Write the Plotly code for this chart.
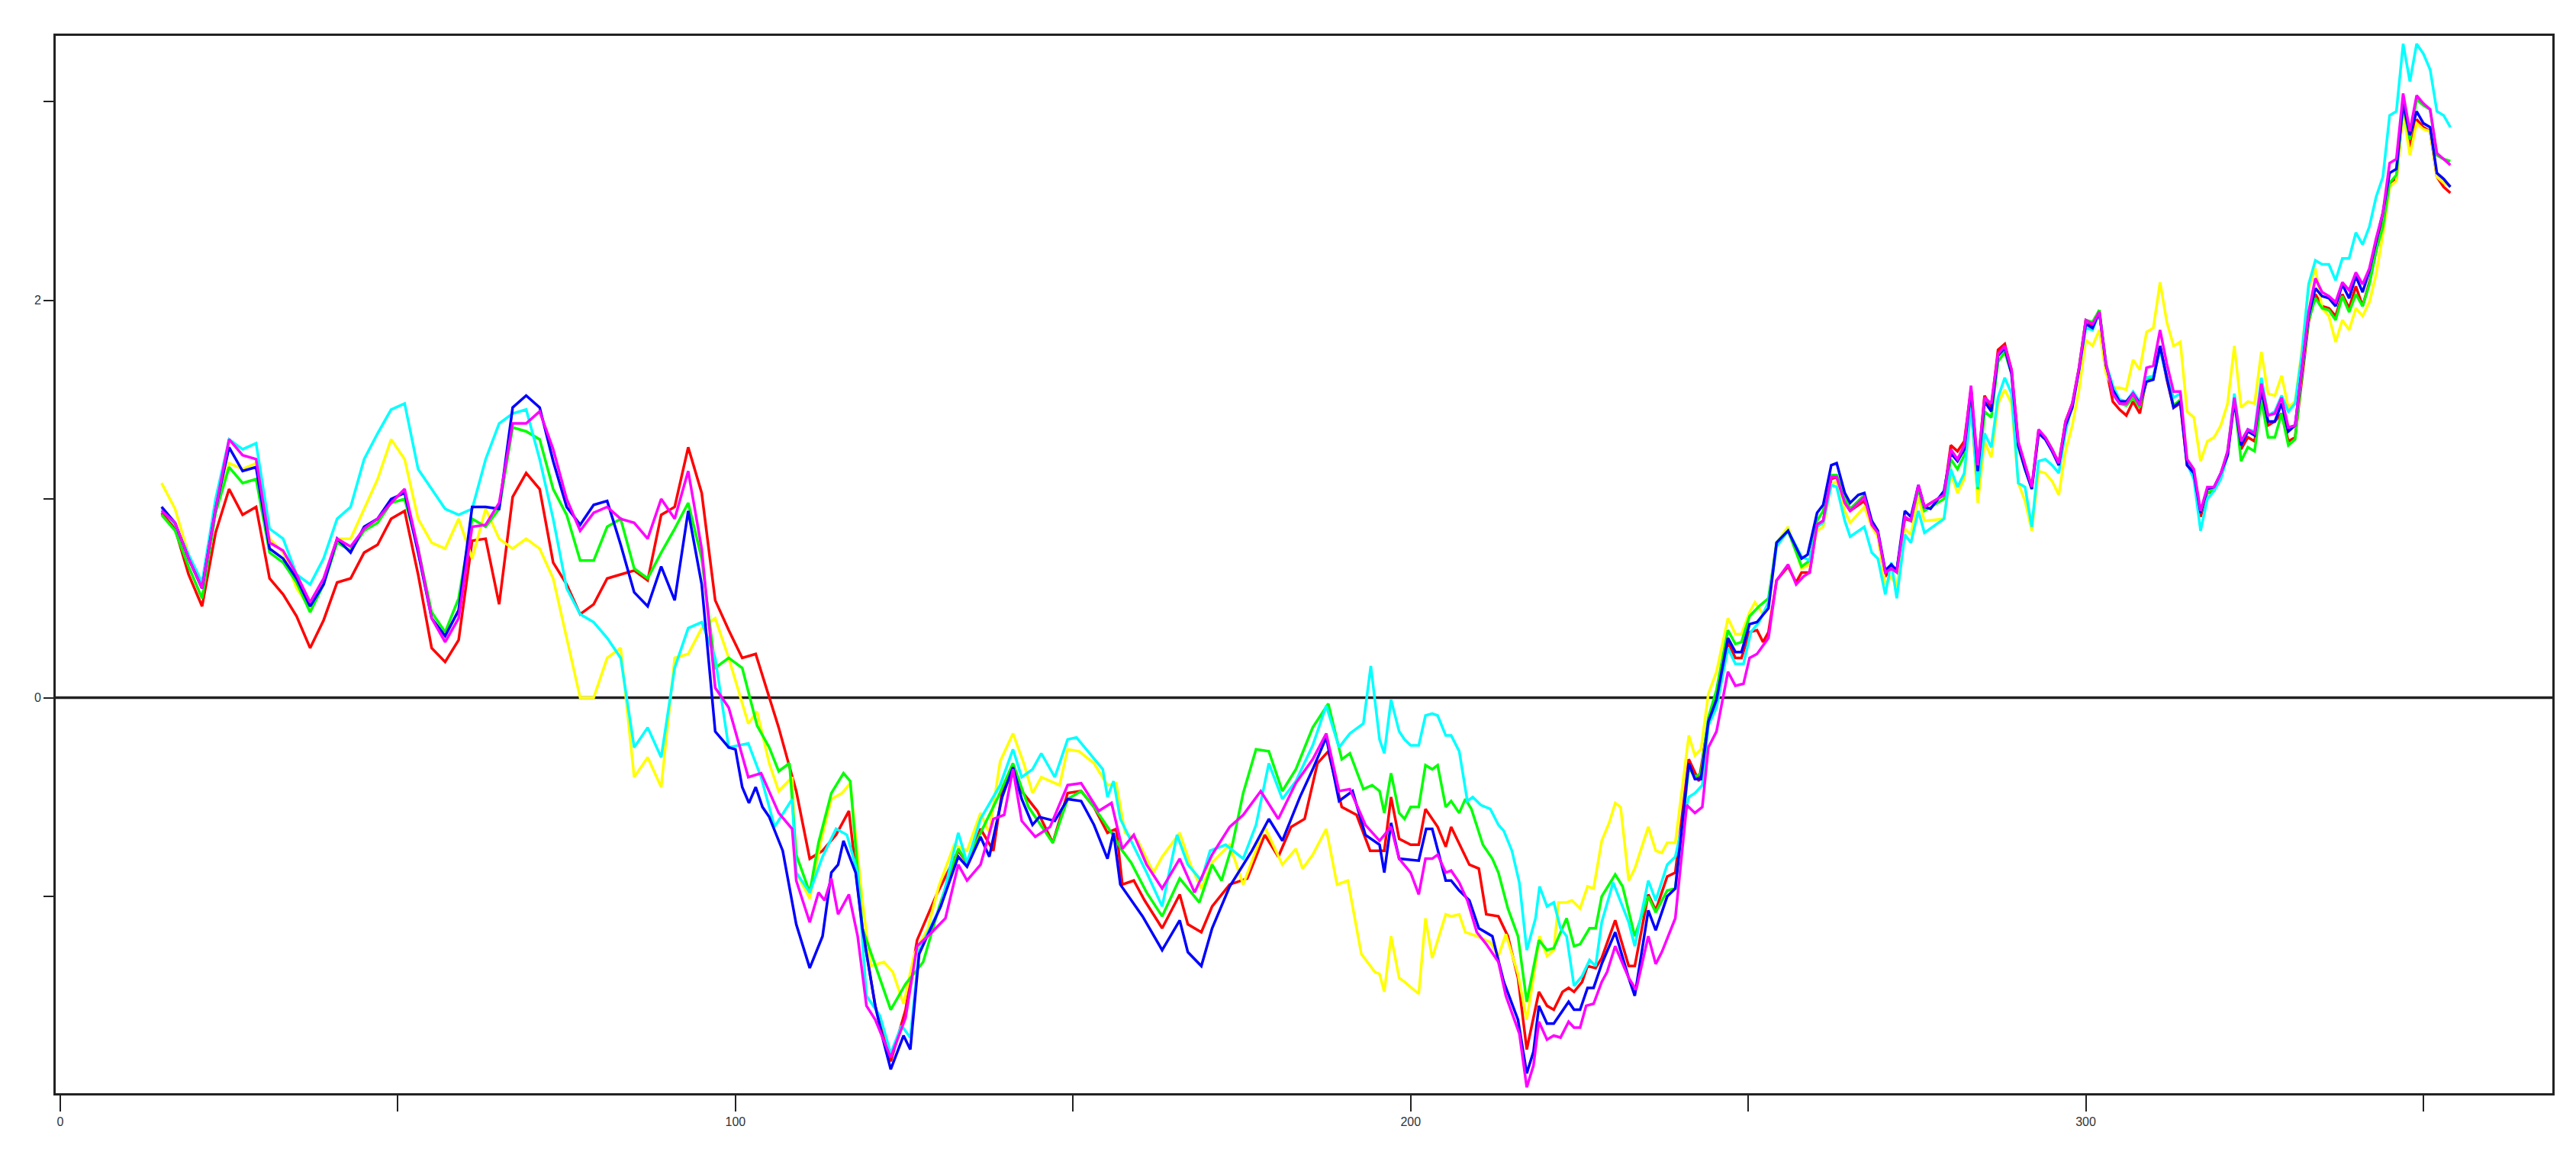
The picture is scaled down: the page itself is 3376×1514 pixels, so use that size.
import plotly.graph_objects as go

# ---- shared x grids for segments read at regular steps ----
X_SEG1 = list(range(15, 100, 2))      # 15..99
X_SEG4 = list(range(280, 355))        # 280..354

SERIES_NAMES = ["red", "yellow", "green", "cyan", "blue", "magenta"]
COLORS = {"red": "#FF0000", "yellow": "#FFFF00", "green": "#00FF00",
          "cyan": "#00FFFF", "blue": "#0000FF", "magenta": "#FF00FF"}

# ---- segment 1 (x 15..99) ----
BLUE_1 = [.96,.88,.70,.55,.95,1.26,1.14,1.16,.75,.70,.60,.46,.57,.80,.73,.86,.90,1.0,1.03,.73,
          .40,.31,.44,.96,.96,.95,1.46,1.52,1.46,1.19,.96,.87,.97,.99,.77,.53,.46,.66,.49,.94,.57,-.17,-.25]
RED_1 = [.93,.85,.62,.46,.83,1.05,.92,.96,.60,.52,.41,.25,.39,.58,.60,.73,.77,.90,.94,.62,
         .25,.18,.29,.79,.80,.47,1.01,1.13,1.05,.68,.57,.42,.47,.60,.62,.64,.59,.92,.96,1.26,1.03,.49,.34]
GREEN_1 = [.92,.84,.66,.50,.93,1.16,1.08,1.10,.73,.68,.58,.43,.57,.78,.74,.84,.88,.98,1.00,.75,
           .43,.33,.50,.90,.86,.95,1.36,1.34,1.30,1.05,.92,.69,.69,.86,.90,.65,.60,.73,.85,.98,.70,.15,.20]
MAGENTA_1 = [.94,.88,.70,.55,.95,1.30,1.22,1.20,.78,.74,.62,.48,.60,.80,.76,.85,.90,.98,1.05,.75,
             .40,.28,.40,.86,.87,.98,1.38,1.38,1.44,1.25,1.0,.84,.93,.96,.90,.88,.80,1.0,.90,1.14,.75,.05,-.05]
CYAN_1 = [.95,.87,.72,.58,1.0,1.30,1.25,1.28,.85,.80,.62,.57,.70,.90,.96,1.20,1.33,1.45,1.48,1.15,
          1.05,.95,.92,.95,1.20,1.38,1.43,1.45,1.20,.90,.55,.42,.38,.30,.20,-.25,-.15,-.30,.15,.35,.38,.20,-.25]
YELLOW_1 = [1.08,.95,.72,.55,.95,1.18,1.15,1.18,.80,.73,.55,.45,.58,.80,.80,.95,1.10,1.30,1.20,.90,
            .78,.75,.90,.70,.95,.80,.75,.80,.75,.60,.30,0.0,0.0,.20,.25,-.40,-.30,-.45,.20,.22,.35,.40,.20]

# ---- segment 2 (x ~100..195), (x, value) pairs ----
BLUE_2 = [(100,-0.26),(101,-0.45),(102,-0.53),(103,-0.45),(104,-0.55),(105,-0.60),(107,-0.77),(109,-1.14),
          (111,-1.36),(112.9,-1.20),(114.2,-0.88),(115.2,-0.84),(116,-0.72),(117.8,-0.88),(118.8,-1.16),
          (120.7,-1.55),(121.7,-1.70),(123,-1.87),(124.9,-1.70),(125.9,-1.77),(127.2,-1.29),(130.4,-1.05),
          (133,-0.80),(134.3,-0.85),(136.3,-0.70),(137.6,-0.80),(139.5,-0.50),(141.1,-0.35),(142.4,-0.51),
          (144,-0.64),(145,-0.60),(147.3,-0.62),(149.2,-0.51),(151.2,-0.52),(153.1,-0.64),(155.1,-0.81),
          (156,-0.68),(157,-0.94),(160.3,-1.10),(163.2,-1.27),(165.8,-1.12),(167,-1.28),(169,-1.35),
          (170.6,-1.16),(173.2,-0.95),(176.5,-0.77),(179,-0.61),(181,-0.72),(183.6,-0.50),(185.5,-0.36),
          (187.5,-0.20),(189.4,-0.52),(191.4,-0.47),(193.3,-0.69)]
RED_2 = [(101,0.20),(103,0.22),(105,0.0),(106.4,-0.15),(109,-0.47),(111,-0.81),(112.9,-0.77),(114.9,-0.69),
         (116.8,-0.57),(118.8,-1.16),(120.7,-1.55),(123,-1.83),(125.2,-1.57),(126.9,-1.22),(129.8,-0.99),
         (133,-0.77),(134.3,-0.83),(136.3,-0.66),(138.2,-0.77),(139.5,-0.47),(141.1,-0.37),(142.4,-0.47),
         (144.7,-0.57),(147,-0.73),(149.2,-0.48),(151.2,-0.47),(153.1,-0.55),(155.1,-0.68),(156.4,-0.66),
         (157.3,-0.94),(159,-0.92),(160.6,-1.02),(163.2,-1.16),(165.8,-0.99),(167,-1.14),(169,-1.18),
         (170.6,-1.05),(173.2,-0.94),(175.8,-0.91),(178.4,-0.69),(180.4,-0.80),(182.3,-0.65),(184.3,-0.61),
         (186.2,-0.33),(187.8,-0.27),(189.8,-0.55),(192,-0.59),(194,-0.77)]
GREEN_2 = [(101,0.15),(103.2,-0.14),(105,-0.25),(106.4,-0.37),(108,-0.33),(109,-0.79),(111,-0.98),(112.3,-0.73),
           (114.2,-0.48),(116,-0.38),(117,-0.42),(118.8,-1.16),(120,-1.28),(123,-1.57),(125.2,-1.44),
           (127.8,-1.33),(130.1,-1.06),(133,-0.76),(134.3,-0.83),(136.3,-0.68),(138.9,-0.50),(141.1,-0.33),
           (143.4,-0.55),(147,-0.73),(149.2,-0.51),(151.2,-0.47),(153.1,-0.55),(155.7,-0.68),(157.3,-0.77),
           (158.6,-0.83),(160.9,-0.98),(163.2,-1.10),(165.8,-0.91),(168.7,-1.03),(170.6,-0.84),(172,-0.92),
           (173.6,-0.74),(175.2,-0.48),(177.1,-0.26),(179,-0.27),(181,-0.47),(183,-0.36),(185.5,-0.15),
           (187.8,-0.03),(189.8,-0.31),(191,-0.28),(193,-0.46),(194.3,-0.44)]
MAGENTA_2 = [(101.9,-0.40),(103.8,-0.38),(106.4,-0.58),(108.4,-0.66),(109,-0.92),(111,-1.13),(112.3,-0.98),
             (113.2,-1.02),(114.2,-0.91),(115.2,-1.09),(116.8,-0.99),(118.1,-1.20),(119.4,-1.55),(120.7,-1.62),
             (123,-1.81),(125.2,-1.61),(126.9,-1.25),(129.1,-1.18),(131.1,-1.11),(133,-0.84),(134.3,-0.92),
             (136.3,-0.84),(138.2,-0.61),(139.8,-0.59),(141.1,-0.36),(142.4,-0.62),(144.4,-0.70),(146.6,-0.65),
             (149.2,-0.44),(151.2,-0.43),(153.8,-0.57),(155.7,-0.53),(157.3,-0.76),(159,-0.69),(160.9,-0.84),
             (163.2,-0.96),(165.8,-0.81),(168,-0.98),(170.6,-0.79),(173.2,-0.65),(175.2,-0.59),(177.8,-0.47),
             (180.4,-0.61),(183,-0.43),(185.5,-0.31),(187.5,-0.18),(189.4,-0.47),(191,-0.46),(193.3,-0.64)]
CYAN_2 = [(101.9,-0.23),(103.8,-0.40),(105.8,-0.65),(108.4,-0.51),(109,-0.88),(111,-0.98),(112.9,-0.80),
          (114.9,-0.66),(116.5,-0.69),(118.1,-0.88),(119.4,-1.50),(121.4,-1.60),(123,-1.79),(124.6,-1.65),
          (125.9,-1.71),(127.2,-1.27),(130.4,-1.05),(133,-0.68),(134.3,-0.83),(136.3,-0.61),(139.2,-0.44),
          (141.1,-0.26),(142.4,-0.40),(144,-0.36),(145.3,-0.28),(147.3,-0.40),(149.2,-0.21),(150.5,-0.20),
          (152.5,-0.28),(154.4,-0.36),(155.1,-0.50),(156,-0.42),(157,-0.61),(158.6,-0.72),(160.9,-0.88),
          (163.2,-1.05),(165.4,-0.69),(167,-0.84),(169,-0.92),(170.3,-0.77),(172.6,-0.74),(175.2,-0.81),
          (177.1,-0.64),(179,-0.33),(181,-0.51),(183,-0.42),(185.5,-0.24),(187.5,-0.04),(189.4,-0.25),
          (191,-0.18),(193,-0.13),(194.1,0.16)]
YELLOW_2 = [(101.9,-0.13),(103.2,-0.07),(105,-0.33),(106.4,-0.47),(108.4,-0.40),(109,-0.88),(111,-1.01),
            (112.6,-0.73),(114.2,-0.51),(115.8,-0.48),(117,-0.43),(118.8,-1.02),(120,-1.35),(122,-1.33),
            (123.3,-1.38),(124.9,-1.54),(126.5,-1.29),(128.5,-1.16),(130.1,-0.95),(132.4,-0.74),(134.3,-0.77),
            (136.3,-0.58),(137.6,-0.68),(139.2,-0.32),(141.1,-0.18),(142.7,-0.33),(144,-0.48),(145.3,-0.40),
            (148,-0.44),(149.2,-0.26),(150.9,-0.27),(153.1,-0.33),(155.1,-0.44),(156.4,-0.43),(157.7,-0.68),
            (159.6,-0.72),(161.9,-0.88),(163.2,-0.80),(165.8,-0.68),(167.4,-0.84),(169,-0.96),(170.6,-0.83),
            (173.2,-0.74),(175.2,-0.94),(178.4,-0.65),(181,-0.84),(183,-0.76),(184,-0.86),(185.5,-0.79),
            (187.5,-0.66),(189.1,-0.94),(190.7,-0.92),(192.7,-1.29),(194.7,-1.38)]

# ---- segment 3 (x ~195..279), (x, value) pairs ----
BLUE_3 = [(195.4,-0.74),(196.1,-0.88),(197.1,-0.63),(198.3,-0.81),(201.2,-0.82),(202.3,-0.66),(203.2,-0.66),
          (205.2,-0.92),(206,-0.92),(207.2,-0.97),(208.7,-1.02),(210.1,-1.16),(212.1,-1.20),(213.8,-1.43),
          (215.9,-1.62),(217.2,-1.89),(218.2,-1.78),(219,-1.55),(220.2,-1.64),(221.2,-1.64),(223.4,-1.53),
          (224.2,-1.57),(225.1,-1.57),(226.2,-1.46),(227.1,-1.46),(228.3,-1.34),(230.3,-1.18),(232.3,-1.41),
          (233.2,-1.50),(235.2,-1.07),(236.3,-1.17),(238,-1.00),(239.2,-0.96),(241.2,-0.33),(242.1,-0.41),
          (243,-0.41),(244.1,-0.12),(245.3,-0.01),(247,0.30),(248.1,0.23),(249,0.23),(250.2,0.37),(251.3,0.38),
          (253,0.45),(254.2,0.78),(255.9,0.84),(257.9,0.70),(258.8,0.72),(260.2,0.93),(261.1,0.97),(262.3,1.17),
          (263.1,1.18),(264.3,1.03),(265.1,0.98),(266.3,1.02),(267.2,1.03),(268.3,0.89),(269.2,0.84),(270.3,0.64),
          (271.2,0.67),(272,0.64),(273.2,0.94),(274.1,0.91),(275.2,1.07),(276.1,0.96),(277,0.95),(279,1.04)]
RED_3 = [(196.1,-0.77),(197.1,-0.50),(198.3,-0.71),(200,-0.74),(201.2,-0.74),(202.2,-0.56),(204,-0.65),
         (205.2,-0.75),(206,-0.65),(208.7,-0.84),(210.1,-0.86),(211.2,-1.09),(213,-1.10),(214.4,-1.20),
         (215.9,-1.41),(217.2,-1.77),(219,-1.48),(220.2,-1.55),(221.2,-1.57),(222.5,-1.48),(223.4,-1.46),
         (224.2,-1.48),(225.4,-1.43),(226.2,-1.35),(227.4,-1.36),(228.3,-1.31),(230.3,-1.12),(232.3,-1.35),
         (233.2,-1.35),(235.2,-0.99),(236.3,-1.07),(238,-0.90),(239.2,-0.88),(241.2,-0.31),(242.7,-0.42),
         (244.1,-0.12),(245.3,-0.01),(247,0.28),(248.1,0.20),(249,0.20),(250.2,0.33),(251.3,0.34),(252.2,0.28),
         (253,0.33),(254.2,0.59),(255.9,0.66),(257.1,0.58),(257.9,0.63),(259.1,0.63),(260.2,0.87),(261.1,0.89),
         (262.3,1.10),(263.1,1.11),(264.3,0.98),(265.1,0.94),(267.2,0.99),(268.3,0.87),(269.2,0.82),(270.3,0.61),
         (271.2,0.65),(272,0.64),(273.2,0.90),(274.1,0.89),(275.2,1.06),(276.1,0.96),(279,1.02)]
GREEN_3 = [(195.4,-0.47),(196.1,-0.58),(197.1,-0.38),(198.3,-0.58),(199.1,-0.61),(200,-0.55),(201.2,-0.55),
           (202.2,-0.34),(203.2,-0.36),(204,-0.34),(205.2,-0.55),(206,-0.52),(207.2,-0.58),(208.1,-0.51),
           (209,-0.56),(210.7,-0.74),(212.1,-0.81),(213,-0.88),(214.4,-1.06),(215.9,-1.20),(217.2,-1.53),
           (219,-1.22),(220.2,-1.27),(221.2,-1.26),(223.1,-1.11),(224.2,-1.25),(225.1,-1.24),(226.5,-1.16),
           (227.4,-1.16),(228.3,-1.00),(230.3,-0.89),(231.4,-0.95),(233.2,-1.20),(235.2,-1.00),(236.3,-1.08),
           (238,-0.97),(239.2,-0.96),(241.2,-0.35),(242.1,-0.40),(243,-0.38),(244.1,-0.10),(245.3,0.04),
           (247,0.34),(248.1,0.27),(249,0.28),(250.2,0.41),(251.6,0.46),(253,0.50),(254.2,0.78),(255.9,0.84),
           (257.9,0.66),(259.1,0.69),(260.2,0.89),(261.1,0.94),(262.3,1.12),(263.1,1.12),(264.3,1.01),
           (265.1,0.95),(267.2,1.02),(268.3,0.88),(269.2,0.83),(270.3,0.63),(271.2,0.66),(272,0.64),(273.2,0.91),
           (274.1,0.89),(275.2,1.05),(276.1,0.94),(279,1.00)]
MAGENTA_3 = [(195.4,-0.72),(197.1,-0.65),(198.3,-0.81),(200,-0.88),(201.2,-0.99),(202.2,-0.81),(203.2,-0.81),
             (204,-0.79),(205.2,-0.88),(206,-0.87),(207.2,-0.93),(208.4,-1.02),(209.8,-1.18),(211.2,-1.24),
             (213,-1.33),(214.1,-1.50),(216.1,-1.69),(217.2,-1.96),(218.2,-1.85),(219,-1.63),(220.2,-1.72),
             (221.2,-1.70),(222.2,-1.71),(223.4,-1.63),(224.2,-1.66),(225.1,-1.66),(226,-1.55),(227.1,-1.54),
             (228.3,-1.43),(229.1,-1.38),(230.3,-1.25),(232.3,-1.41),(233.4,-1.47),(235.2,-1.20),(236.3,-1.34),
             (237.2,-1.28),(239.2,-1.11),(240.9,-0.54),(242.1,-0.58),(243.2,-0.55),(244.1,-0.25),(245.3,-0.17),
             (247,0.13),(248.1,0.06),(249.3,0.07),(250.2,0.20),(251.3,0.22),(253,0.30),(254.2,0.59),(255.9,0.67),
             (257.1,0.57),(258.2,0.61),(259.1,0.63),(260.2,0.87),(261.1,0.89),(262.3,1.11),(263.1,1.11),
             (264.3,0.98),(265.1,0.94),(267.2,1.01),(268.3,0.87),(269.2,0.83),(270.3,0.63),(271.2,0.65),(272,0.63),
             (273.2,0.91),(274.1,0.89),(275.2,1.07),(276.1,0.96),(279,1.02)]
CYAN_3 = [(195.4,-0.21),(196.1,-0.28),(197.1,-0.01),(198.3,-0.17),(199.1,-0.21),(200,-0.24),(201.2,-0.24),
          (202.2,-0.09),(203.2,-0.08),(204,-0.09),(205.2,-0.19),(206,-0.19),(207.2,-0.27),(208.4,-0.52),
          (209.2,-0.50),(210.4,-0.54),(211.8,-0.56),(213,-0.64),(213.8,-0.67),(215,-0.77),(216.1,-0.93),
          (217.2,-1.27),(218.5,-1.11),(219.1,-0.95),(220.2,-1.05),(221.2,-1.03),(222.2,-1.16),(223.1,-1.20),
          (224.2,-1.45),(225.4,-1.40),(226.5,-1.32),(227.4,-1.35),(228.3,-1.13),(230,-0.93),(232.3,-1.13),
          (233.2,-1.25),(235.2,-0.92),(236.3,-1.02),(238,-0.84),(239.2,-0.80),(241.2,-0.50),(242.1,-0.48),
          (243.2,-0.44),(244.1,-0.14),(245.3,-0.05),(247,0.25),(248.1,0.17),(249.3,0.17),(250.4,0.33),
          (251.6,0.38),(253,0.48),(254.2,0.76),(255.9,0.84),(257.9,0.71),(259.1,0.69),(260.2,0.86),(261.1,0.88),
          (262.3,1.07),(263.1,1.06),(264.3,0.89),(265.1,0.81),(267.2,0.86),(268.3,0.73),(269.2,0.70),(270.3,0.52),
          (271.2,0.68),(272,0.50),(273.2,0.82),(274.1,0.78),(275.2,0.94),(276.1,0.83),(279,0.90)]
YELLOW_3 = [(195.4,-1.39),(196.1,-1.48),(197.1,-1.20),(198.3,-1.41),(199.1,-1.43),(201.2,-1.49),(202.2,-1.11),
            (203.2,-1.31),(205.2,-1.09),(206,-1.10),(207.2,-1.09),(208.1,-1.18),(209.8,-1.20),(211.8,-1.23),
            (213,-1.30),(214.1,-1.19),(215.9,-1.39),(217.2,-1.62),(218.2,-1.41),(219.1,-1.20),(220.2,-1.30),
            (221.2,-1.27),(221.9,-1.03),(223.1,-1.03),(223.9,-1.02),(225.1,-1.06),(226.2,-0.95),(227.1,-0.96),
            (228.3,-0.72),(229.4,-0.63),(230.3,-0.53),(231.1,-0.55),(232.3,-0.92),(233.2,-0.86),(235.2,-0.65),
            (236.3,-0.77),(237.2,-0.78),(238,-0.73),(239.2,-0.73),(241.2,-0.19),(242.1,-0.29),(243,-0.26),
            (244.1,0.02),(245.3,0.13),(247,0.40),(248.1,0.32),(249,0.32),(250.2,0.43),(251,0.48),(252.2,0.42),
            (253,0.48),(254.2,0.78),(255.9,0.86),(257.9,0.65),(259.1,0.67),(260.2,0.84),(261.1,0.86),(262.3,1.07),
            (263.1,1.09),(264.3,0.94),(265.1,0.88),(267.2,0.96),(268.3,0.86),(269.2,0.81),(270.3,0.57),
            (271.2,0.61),(272,0.56),(273.2,0.85),(274.1,0.82),(275.2,1.01),(276.1,0.89),(279,0.90)]

# ---- segment 4 (x 280..354) ----
BLUE_4 = [1.23,1.19,1.25,1.55,1.14,1.49,1.44,1.72,1.76,1.63,1.27,1.15,1.05,1.33,1.30,1.24,1.17,1.37,1.46,1.65,
          1.88,1.86,1.94,1.67,1.55,1.49,1.49,1.53,1.48,1.59,1.60,1.77,1.61,1.46,1.49,1.17,1.13,0.93,1.05,1.06,
          1.13,1.22,1.49,1.27,1.34,1.32,1.55,1.39,1.39,1.48,1.34,1.37,1.65,1.92,2.06,2.02,2.01,1.97,2.08,2.01,
          2.12,2.04,2.15,2.30,2.44,2.64,2.66,2.99,2.83,2.95,2.89,2.87,2.64,2.61,2.57]
RED_4 = [1.27,1.24,1.29,1.55,1.15,1.52,1.46,1.75,1.78,1.65,1.28,1.17,1.06,1.34,1.31,1.25,1.18,1.39,1.48,1.66,
         1.90,1.87,1.95,1.66,1.49,1.45,1.42,1.49,1.43,1.61,1.61,1.77,1.60,1.46,1.48,1.17,1.13,0.91,1.03,1.04,
         1.12,1.22,1.51,1.25,1.31,1.29,1.53,1.37,1.39,1.43,1.29,1.31,1.61,1.89,2.03,1.97,1.96,1.92,2.03,1.96,
         2.07,1.97,2.09,2.25,2.39,2.59,2.61,2.96,2.77,2.91,2.87,2.85,2.62,2.57,2.54]
GREEN_4 = [1.20,1.15,1.22,1.48,1.05,1.44,1.41,1.69,1.74,1.63,1.26,1.15,1.05,1.33,1.31,1.25,1.17,1.39,1.47,1.66,
           1.90,1.89,1.95,1.68,1.53,1.48,1.47,1.51,1.46,1.60,1.61,1.76,1.61,1.47,1.50,1.18,1.14,0.93,1.03,1.05,
           1.12,1.24,1.51,1.19,1.26,1.24,1.50,1.31,1.31,1.43,1.27,1.30,1.63,1.90,2.01,1.96,1.95,1.90,2.02,1.94,
           2.03,1.97,2.08,2.25,2.37,2.59,2.63,2.98,2.81,3.01,2.98,2.96,2.73,2.71,2.70]
MAGENTA_4 = [1.25,1.20,1.27,1.57,1.17,1.51,1.48,1.73,1.77,1.65,1.29,1.17,1.06,1.35,1.31,1.25,1.18,1.39,1.48,1.66,
             1.90,1.88,1.94,1.68,1.53,1.48,1.48,1.53,1.47,1.66,1.67,1.85,1.68,1.54,1.54,1.20,1.15,0.94,1.06,1.06,
             1.13,1.24,1.51,1.29,1.35,1.33,1.58,1.42,1.43,1.51,1.36,1.37,1.66,1.94,2.11,2.04,2.02,1.99,2.09,2.05,
             2.14,2.08,2.16,2.31,2.44,2.69,2.71,3.04,2.85,3.03,2.99,2.96,2.74,2.71,2.68]
CYAN_4 = [1.15,1.06,1.13,1.46,1.06,1.33,1.26,1.51,1.61,1.53,1.08,1.06,0.86,1.19,1.20,1.17,1.13,1.34,1.48,1.65,
          1.86,1.85,1.94,1.68,1.57,1.50,1.49,1.54,1.49,1.61,1.62,1.75,1.61,1.51,1.53,1.18,1.10,0.84,1.00,1.04,
          1.10,1.22,1.53,1.27,1.35,1.34,1.61,1.42,1.44,1.52,1.44,1.48,1.73,2.08,2.20,2.18,2.18,2.10,2.21,2.21,
          2.34,2.28,2.37,2.52,2.62,2.93,2.95,3.29,3.10,3.29,3.24,3.16,2.95,2.93,2.87]
YELLOW_4 = [1.13,1.03,1.10,1.48,0.98,1.29,1.21,1.48,1.55,1.48,1.08,0.99,0.84,1.14,1.13,1.09,1.02,1.24,1.37,1.55,
            1.80,1.77,1.85,1.63,1.56,1.56,1.55,1.70,1.65,1.84,1.86,2.09,1.89,1.77,1.79,1.44,1.41,1.19,1.29,1.31,
            1.37,1.48,1.77,1.46,1.49,1.48,1.74,1.53,1.52,1.62,1.46,1.49,1.75,2.06,2.16,1.96,1.92,1.79,1.90,1.85,
            1.96,1.92,1.99,2.13,2.33,2.57,2.60,2.95,2.73,2.89,2.86,2.85,2.62,2.59,2.57]

DATA = {
    "red": (RED_1, RED_2, RED_3, RED_4),
    "yellow": (YELLOW_1, YELLOW_2, YELLOW_3, YELLOW_4),
    "green": (GREEN_1, GREEN_2, GREEN_3, GREEN_4),
    "cyan": (CYAN_1, CYAN_2, CYAN_3, CYAN_4),
    "blue": (BLUE_1, BLUE_2, BLUE_3, BLUE_4),
    "magenta": (MAGENTA_1, MAGENTA_2, MAGENTA_3, MAGENTA_4),
}

X_TICKS = [0, 50, 100, 150, 200, 250, 300, 350]
X_TICK_TEXT = ["0", "", "100", "", "200", "", "300", ""]
Y_TICKS = [-1, 0, 1, 2, 3]
Y_TICK_TEXT = ["", "0", "", "2", ""]

fig = go.Figure()
for name in SERIES_NAMES:
    s1, s2, s3, s4 = DATA[name]
    n1 = min(len(X_SEG1), len(s1))
    n4 = min(len(X_SEG4), len(s4))
    xs = X_SEG1[:n1] + [p[0] for p in s2] + [p[0] for p in s3] + X_SEG4[:n4]
    ys = s1[:n1] + [p[1] for p in s2] + [p[1] for p in s3] + s4[:n4]
    fig.add_trace(go.Scatter(x=xs, y=ys, mode="lines",
                             line=dict(color=COLORS[name], width=3.5),
                             showlegend=False, hoverinfo="skip"))

fig.add_hline(y=0, line=dict(color="#222222", width=3.5), layer="below")

axis_font = dict(family="Liberation Sans, Arial, sans-serif", size=16, color="#333333")
fig.update_layout(
    width=3376, height=1514,
    margin=dict(l=65, r=39, t=39, b=89),
    plot_bgcolor="white", paper_bgcolor="white",
    xaxis=dict(range=[-0.68, 369.1], tickvals=X_TICKS, ticktext=X_TICK_TEXT,
               showgrid=False, zeroline=False, showline=True, linecolor="#222222",
               linewidth=3, mirror=True, ticks="outside", ticklen=21, tickwidth=2,
               tickcolor="#222222", tickfont=axis_font),
    yaxis=dict(range=[-1.99, 3.33], tickvals=Y_TICKS, ticktext=Y_TICK_TEXT,
               showgrid=False, zeroline=False, showline=True, linecolor="#222222",
               linewidth=3, mirror=True, ticks="outside", ticklen=13, tickwidth=2,
               tickcolor="#222222", tickfont=axis_font),
)

fig.write_html("out.html")
